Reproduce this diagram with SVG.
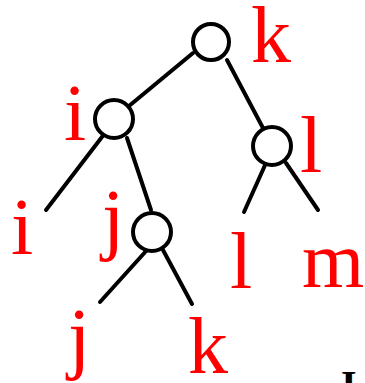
<svg xmlns="http://www.w3.org/2000/svg" width="365" height="383" viewBox="0 0 365 383">
<style>
.e{stroke:#000;stroke-width:4;stroke-linecap:round;fill:none}
.n{fill:#fff;stroke:#000;stroke-width:4}
.t{font-family:"Liberation Serif","Times New Roman",serif;font-size:80px;fill:#f00;text-anchor:middle}
.b{font-family:"Liberation Serif","Times New Roman",serif;font-size:40px;font-weight:bold;fill:#000}
</style>
<rect width="365" height="383" fill="#fff"/>
<g id="connectors">
<line class="e" x1="193" y1="53" x2="129" y2="106"/>
<line class="e" x1="227" y1="60" x2="263" y2="128"/>
<line class="e" x1="105" y1="133" x2="46" y2="210"/>
<line class="e" x1="127" y1="138" x2="151" y2="210"/>
<line class="e" x1="266" y1="163" x2="244" y2="212"/>
<line class="e" x1="286" y1="163" x2="318" y2="210"/>
<line class="e" x1="147" y1="250" x2="100" y2="302"/>
<line class="e" x1="163" y1="250" x2="192" y2="304"/>
</g>
<g id="node-k"><circle class="n" cx="211" cy="42" r="18"/><text class="t" x="271" y="62">k</text></g>
<g id="node-i"><circle class="n" cx="114" cy="119" r="19"/><text class="t" x="75" y="140">i</text></g>
<g id="node-l"><circle class="n" cx="272" cy="146" r="19"/><text class="t" x="311" y="172">l</text></g>
<g id="node-j"><circle class="n" cx="152" cy="232" r="19"/><text class="t" x="113" y="245">j</text></g>
<g id="leaf-i"><text class="t" x="22" y="254">i</text></g>
<g id="leaf-l"><text class="t" x="241" y="288">l</text></g>
<g id="leaf-m"><text class="t" x="333" y="287">m</text></g>
<g id="leaf-j"><text class="t" x="79" y="364">j</text></g>
<g id="leaf-k"><text class="t" x="208" y="373">k</text></g>
<text class="b" x="341" y="398">I</text>
</svg>
